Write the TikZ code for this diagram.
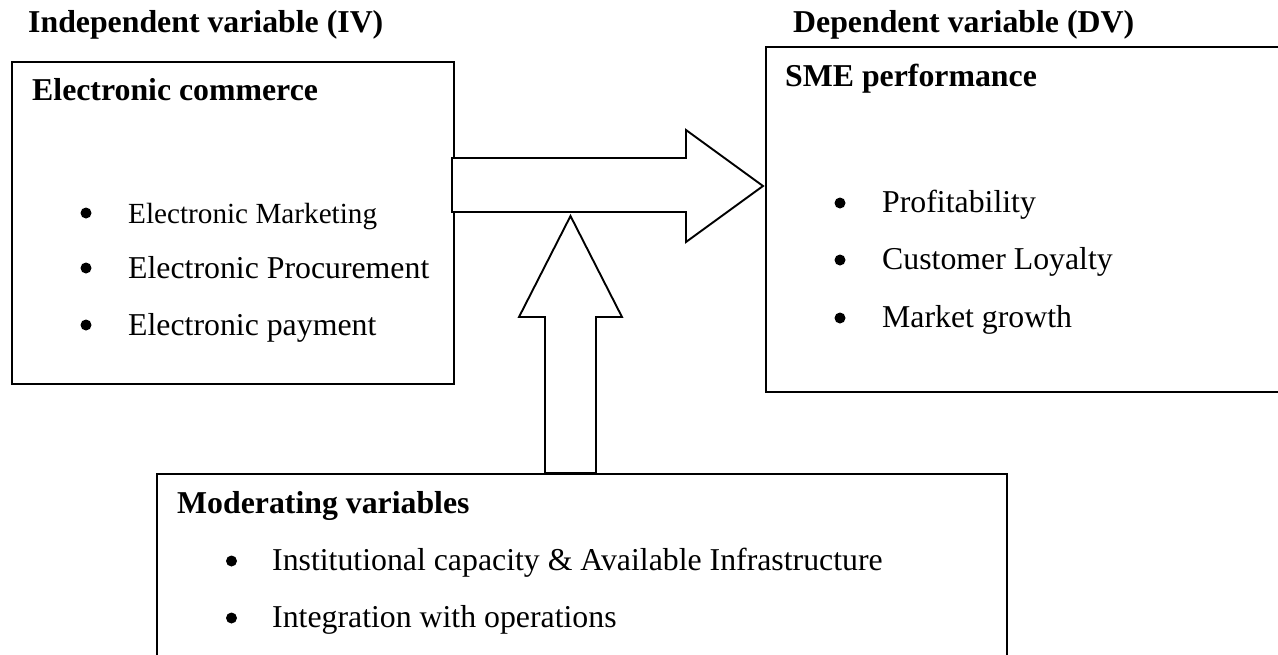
\documentclass[tikz,border=0pt]{standalone}
\usepackage{fontspec}
\setmainfont{Liberation Serif}
\begin{document}
\begin{tikzpicture}[x=1pt,y=-1pt]
\tikzset{
  box/.style={draw, line width=1.9pt, inner sep=0pt, anchor=north west},
  blockarrow/.style={draw, fill=white, line width=1.9pt, line join=miter},
  headtext/.style={anchor=base west, inner sep=0pt, font=\fontsize{31.8}{36}\selectfont\bfseries},
  itemtext/.style={anchor=base west, inner sep=0pt, font=\fontsize{31.8}{36}\selectfont},
  smalltext/.style={anchor=base west, inner sep=0pt, font=\fontsize{29.2}{34}\selectfont},
  bulletdot/.style={circle, fill=black, inner sep=0pt, minimum size=11pt},
}
\useasboundingbox (0,0) rectangle (1278,654);
\clip (0,0) rectangle (1278,654);
\fill[white] (0,0) rectangle (1278,654);

% boxes
\node[box, minimum width=442pt, minimum height=322pt] (ec) at (11,61) {};
\node[box, minimum width=530pt, minimum height=345pt] (sme) at (765,46) {};
\node[box, minimum width=850pt, minimum height=220pt] (mod) at (156,473) {};

% headings above boxes
\node[headtext] (ivlabel) at (28,32) {Independent variable (IV)};
\node[headtext] (dvlabel) at (793,32) {Dependent variable (DV)};

% left box
\node[headtext] (ectitle) at (32,100) {Electronic commerce};
\node[bulletdot] (b1) at (86,213) {};
\node[smalltext] (e1) at (128,223) {Electronic Marketing};
\node[bulletdot] (b2) at (86,268) {};
\node[itemtext] (e2) at (128,278) {Electronic Procurement};
\node[bulletdot] (b3) at (86,325) {};
\node[itemtext] (e3) at (128,335) {Electronic payment};

% right box
\node[headtext] (smetitle) at (785,86) {SME performance};
\node[bulletdot] (b4) at (840,203) {};
\node[itemtext] (s1) at (882,212) {Profitability};
\node[bulletdot] (b5) at (840,260) {};
\node[itemtext] (s2) at (882,269) {Customer Loyalty};
\node[bulletdot] (b6) at (840,318) {};
\node[itemtext] (s3) at (882,327) {Market growth};

% bottom box
\node[headtext] (modtitle) at (177,513) {Moderating variables};
\node[bulletdot] (b7) at (231.5,561) {};
\node[itemtext] (m1) at (272,570) {Institutional capacity \& Available Infrastructure};
\node[bulletdot] (b8) at (231.5,618) {};
\node[itemtext] (m2) at (272,627) {Integration with operations};

% block arrows
\coordinate (htip) at (763,186);
\coordinate (vtip) at (570.5,216);
\draw[blockarrow] (452,158) -- (686,158) -- (686,130) -- (htip) -- (686,242) -- (686,212) -- (452,212) -- cycle;
\draw[blockarrow] (545,473) -- (545,317) -- (519,317) -- (vtip) -- (622,317) -- (596,317) -- (596,473) -- cycle;
\end{tikzpicture}
\end{document}
